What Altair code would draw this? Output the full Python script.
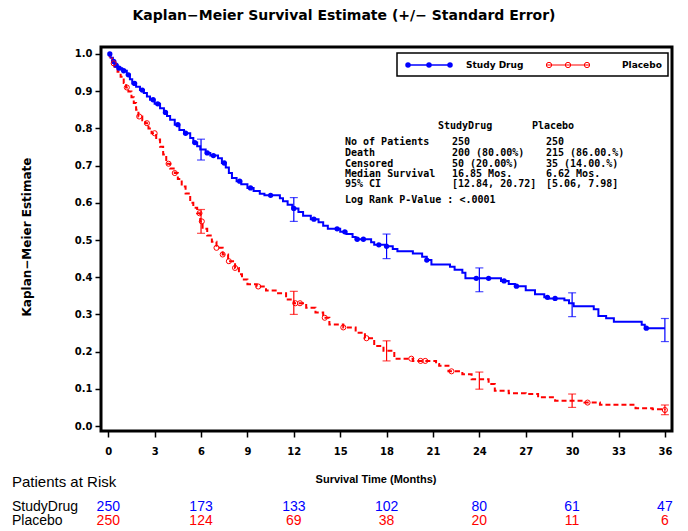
import altair as alt
import pandas as pd

# ---------------- data ----------------
blue_t = [0, 0.15, 0.3, 0.45, 0.6, 0.9, 1.2, 1.4, 1.55, 1.8, 2.05, 2.3, 2.5, 2.7, 3.0, 3.35, 3.6, 3.8,
          4.0, 4.3, 4.6, 4.9, 5.3, 5.5, 5.75, 5.95, 6.3, 6.6, 7.1, 7.35, 7.6, 7.8, 8.0, 8.3, 8.6, 9.0,
          9.4, 9.8, 10.1, 11.1, 11.3, 11.6, 11.9, 12.3, 12.6, 13.1, 13.6, 13.9, 14.2, 15.0, 15.4, 15.8,
          16.0, 17.0, 17.2, 18.0, 18.4, 18.7, 19.7, 20.3, 20.6, 20.9, 22.1, 22.4, 22.9, 23.1, 25.4,
          25.9, 26.3, 27.0, 27.6, 28.2, 28.5, 29.5, 29.8, 30.1, 31.4, 31.7, 32.2, 32.7, 34.5, 34.7, 36.0]
blue_s = [1.0, 0.99, 0.98, 0.97, 0.962, 0.955, 0.944, 0.932, 0.921, 0.912, 0.903, 0.895, 0.886, 0.877,
          0.866, 0.854, 0.843, 0.833, 0.823, 0.81, 0.796, 0.787, 0.774, 0.762, 0.752, 0.743, 0.734,
          0.727, 0.72, 0.707, 0.695, 0.68, 0.667, 0.658, 0.65, 0.64, 0.632, 0.624, 0.62, 0.612, 0.604,
          0.595, 0.585, 0.575, 0.565, 0.556, 0.548, 0.538, 0.53, 0.522, 0.516, 0.508, 0.502, 0.494,
          0.487, 0.483, 0.476, 0.47, 0.464, 0.455, 0.446, 0.434, 0.428, 0.42, 0.412, 0.397, 0.39,
          0.382, 0.376, 0.365, 0.354, 0.346, 0.343, 0.338, 0.33, 0.322, 0.314, 0.296, 0.29, 0.28,
          0.272, 0.263, 0.263]

red_t = [0, 0.1, 0.25, 0.4, 0.6, 0.8, 1.0, 1.15, 1.3, 1.5, 1.65, 1.8, 1.95, 2.2, 2.4, 2.6, 2.8, 3.1,
         3.35, 3.55, 3.75, 4.0, 4.3, 4.5, 4.75, 5.0, 5.3, 5.5, 5.75, 5.95, 6.1, 6.4, 6.7, 7.0, 7.4,
         7.75, 8.2, 8.45, 8.65, 9.0, 9.6, 10.2, 10.9, 11.5, 12.0, 12.8, 13.4, 13.9, 14.3, 15.2, 16.0,
         16.6, 17.2, 17.8, 18.5, 19.7, 21.2, 21.4, 22.0, 22.9, 23.5, 24.6, 25.0, 25.9, 27.0, 27.8,
         28.9, 30.8, 31.8, 34.1, 35.2, 36.0]
red_s = [1.0, 0.988, 0.975, 0.966, 0.952, 0.939, 0.922, 0.91, 0.899, 0.884, 0.868, 0.85, 0.832, 0.822,
         0.814, 0.8, 0.787, 0.77, 0.751, 0.73, 0.705, 0.692, 0.68, 0.664, 0.644, 0.625, 0.6, 0.587,
         0.572, 0.55, 0.53, 0.512, 0.495, 0.479, 0.461, 0.443, 0.425, 0.408, 0.394, 0.381, 0.375,
         0.364, 0.357, 0.34, 0.33, 0.318, 0.305, 0.291, 0.273, 0.265, 0.251, 0.236, 0.215, 0.202,
         0.181, 0.175, 0.167, 0.162, 0.147, 0.139, 0.126, 0.113, 0.095, 0.088, 0.086, 0.077, 0.068,
         0.063, 0.057, 0.048, 0.045, 0.043]

blue_cens = [0.1, 0.35, 0.5, 0.7, 1.0, 1.3, 1.7, 2.2, 2.9, 3.2, 3.7, 4.5, 5.0, 5.6, 6.4, 6.8, 7.5, 8.5,
             9.2, 10.5, 12.0, 13.3, 14.8, 15.3, 16.1, 16.5, 17.5, 18.0, 20.6, 23.8, 24.6, 25.6, 26.4,
             28.4, 28.9, 34.8]
red_cens = [0.35, 1.2, 2.0, 2.5, 3.0, 3.9, 4.3, 5.9, 6.05, 7.0, 7.4, 7.8, 8.2, 9.7, 12.1, 12.4, 14.0,
            15.2, 16.7, 19.6, 20.2, 20.5, 22.2, 31.0, 36.0]

eb_t = [6, 12, 18, 24, 30, 36]
blue_est = [0.743, 0.582, 0.483, 0.393, 0.326, 0.258]
blue_se = [0.028, 0.032, 0.033, 0.032, 0.032, 0.031]
red_est = [0.55, 0.331, 0.202, 0.122, 0.068, 0.0435]
red_se = [0.032, 0.031, 0.027, 0.023, 0.018, 0.013]

risk_t = [0, 6, 12, 18, 24, 30, 36]
risk_blue = [250, 173, 133, 102, 80, 61, 47]
risk_red = [250, 124, 69, 38, 20, 11, 6]

x_ticks = [0, 3, 6, 9, 12, 15, 18, 21, 24, 27, 30, 33, 36]
y_ticks = [0.0, 0.1, 0.2, 0.3, 0.4, 0.5, 0.6, 0.7, 0.8, 0.9, 1.0]

stats_labels = ["No of Patients", "Death", "Censored", "Median Survival", "95% CI"]
stats_drug = ["250", "200 (80.00%)", "50 (20.00%)", "16.85 Mos.", "[12.84, 20.72]"]
stats_placebo = ["250", "215 (86.00.%)", "35 (14.00.%)", "6.62 Mos.", "[5.06, 7.98]"]

BLUE = "#0000FF"
RED = "#FF0000"
SANS = "Liberation Sans, Arial, sans-serif"
HEAVY = "DejaVu Sans, sans-serif"
MONO = "DejaVu Sans Mono, monospace"


def step_value(t, ts, ss):
    v = ss[0]
    for tt, s in zip(ts, ss):
        if tt <= t:
            v = s
    return v


# ---------------- frames ----------------
df_blue = pd.DataFrame({"t": blue_t, "s": blue_s})
df_red = pd.DataFrame({"t": red_t, "s": red_s})
df_bc = pd.DataFrame({"t": blue_cens, "s": [step_value(t, blue_t, blue_s) for t in blue_cens]})
df_rc = pd.DataFrame({"t": red_cens, "s": [step_value(t, red_t, red_s) for t in red_cens]})
df_beb = pd.DataFrame({"t": eb_t, "s": [e - s for e, s in zip(blue_est, blue_se)],
                       "s2": [e + s for e, s in zip(blue_est, blue_se)]})
df_reb = pd.DataFrame({"t": eb_t, "s": [e - s for e, s in zip(red_est, red_se)],
                       "s2": [e + s for e, s in zip(red_est, red_se)]})
df_risk_b = pd.DataFrame({"t": risk_t, "n": risk_blue})
df_risk_r = pd.DataFrame({"t": risk_t, "n": risk_red})

xscale = alt.Scale(domain=[-0.47, 36.46], nice=False, zero=False)
yscale = alt.Scale(domain=[-0.0134, 1.0188], nice=False, zero=False)
xaxis = alt.Axis(values=x_ticks, title=None, domain=False, grid=False, tickSize=6, tickWidth=1.5,
                 tickColor="black", labelFont=HEAVY, labelFontWeight="bold", labelFontSize=10,
                 labelColor="black", labelBaseline="middle", labelPadding=14)
yaxis = alt.Axis(values=y_ticks, format=".1f", title=None, domain=False, grid=False, tickSize=6,
                 tickWidth=1.5, tickColor="black", labelFont=HEAVY, labelFontWeight="bold",
                 labelFontSize=10, labelColor="black", labelPadding=3)


def X(field="t"):
    return alt.X(f"{field}:Q", scale=xscale, axis=xaxis)


def Y(field="s"):
    return alt.Y(f"{field}:Q", scale=yscale, axis=yaxis)


blue_line = alt.Chart(df_blue).mark_line(color=BLUE, strokeWidth=2, interpolate="step-after").encode(
    x=X(), y=Y())
red_line = alt.Chart(df_red).mark_line(color=RED, strokeWidth=2, strokeDash=[5, 3],
                                       interpolate="step-after").encode(x=X(), y=Y())
blue_pts = alt.Chart(df_bc).mark_point(shape="circle", filled=True, color=BLUE, size=28, opacity=1).encode(
    x=X(), y=Y())
red_pts = alt.Chart(df_rc).mark_point(shape="circle", filled=False, color=RED, size=26, strokeWidth=1,
                                      opacity=1).encode(x=X(), y=Y())
blue_eb = alt.Chart(df_beb).mark_rule(color=BLUE, strokeWidth=1.2).encode(x=X(), y=Y(), y2="s2:Q")
red_eb = alt.Chart(df_reb).mark_rule(color=RED, strokeWidth=1.2).encode(x=X(), y=Y(), y2="s2:Q")
blue_cap_lo = alt.Chart(df_beb).mark_tick(color=BLUE, orient="horizontal", size=8, thickness=1.2).encode(
    x=X(), y=Y())
blue_cap_hi = alt.Chart(df_beb).mark_tick(color=BLUE, orient="horizontal", size=8, thickness=1.2).encode(
    x=X(), y=Y("s2"))
red_cap_lo = alt.Chart(df_reb).mark_tick(color=RED, orient="horizontal", size=8, thickness=1.2).encode(
    x=X(), y=Y())
red_cap_hi = alt.Chart(df_reb).mark_tick(color=RED, orient="horizontal", size=8, thickness=1.2).encode(
    x=X(), y=Y("s2"))

one = pd.DataFrame({"a": [0]})


def label(text, x, y, size=10, weight="normal", font=SANS, color="black", align="left", angle=0):
    kw = dict(text=text, fontSize=size, fontWeight=weight, font=font, color=color, align=align,
              baseline="middle")
    if angle:
        kw["angle"] = angle
    return alt.Chart(one).mark_text(**kw).encode(x=alt.value(x), y=alt.value(y))


layers = [blue_line, red_line, blue_eb, red_eb, blue_cap_lo, blue_cap_hi, red_cap_lo, red_cap_hi,
          blue_pts, red_pts]

# title & axis titles
layers.append(label("Kaplan\u2212Meier Survival Estimate (+/\u2212  Standard Error)", 243, -31, size=14,
                    weight="bold", font=HEAVY, align="center"))
layers.append(label("Kaplan\u2212Meier Estimate", -74, 190, size=12, weight="bold", font=HEAVY,
                    align="center", angle=270))
layers.append(label("Survival Time (Months)", 275, 433, size=11, weight="bold", align="center"))

# legend box
layers.append(alt.Chart(one).mark_rect(filled=False, stroke="black", strokeWidth=1.5).encode(
    x=alt.value(296), x2=alt.value(567), y=alt.value(6), y2=alt.value(29)))
layers.append(alt.Chart(one).mark_rule(color=BLUE, strokeWidth=1.5).encode(
    x=alt.value(305), x2=alt.value(351), y=alt.value(18)))
layers.append(alt.Chart(one).mark_rule(color=RED, strokeWidth=1.2).encode(
    x=alt.value(446), x2=alt.value(489), y=alt.value(18)))
for px in [307, 328, 349]:
    layers.append(alt.Chart(one).mark_point(shape="circle", filled=True, color=BLUE, size=30, opacity=1).encode(
        x=alt.value(px), y=alt.value(18)))
for px in [448, 467, 486]:
    layers.append(alt.Chart(one).mark_point(shape="circle", filled=False, color=RED, size=28, strokeWidth=1,
                                            opacity=1).encode(x=alt.value(px), y=alt.value(18)))
layers.append(label("Study Drug", 365, 18, size=9, weight="bold", font=HEAVY))
layers.append(label("Placebo", 521, 18, size=9, weight="bold", font=HEAVY))

# stats block
layers.append(label("StudyDrug", 337, 79, size=10, weight="bold", font=MONO))
layers.append(label("Placebo", 431, 79, size=10, weight="bold", font=MONO))
row_y = [95, 106, 116.5, 126.5, 137]
for lab, d, p, yy in zip(stats_labels, stats_drug, stats_placebo, row_y):
    layers.append(label(lab, 244, yy, size=10, weight="bold", font=MONO))
    layers.append(label(d, 351, yy, size=10, weight="bold", font=MONO))
    layers.append(label(p, 445, yy, size=10, weight="bold", font=MONO))
layers.append(label("Log Rank P-Value : <.0001", 244, 153, size=10, weight="bold", font=MONO))

# patients at risk
layers.append(label("Patients at Risk", -89, 435, size=15))
layers.append(label("StudyDrug", -89, 460, size=14))
layers.append(label("Placebo", -89, 474, size=14))
layers.append(alt.Chart(df_risk_b).mark_text(fontSize=14, color=BLUE, font=SANS, baseline="middle").encode(
    x=X(), y=alt.value(460), text="n:Q"))
layers.append(alt.Chart(df_risk_r).mark_text(fontSize=14, color=RED, font=SANS, baseline="middle").encode(
    x=X(), y=alt.value(474), text="n:Q"))

chart = alt.layer(*layers).properties(
    width=571, height=384,
    autosize=alt.AutoSizeParams(type="none"),
    padding={"left": 93, "top": 39, "right": 8, "bottom": 100},
).configure_view(stroke="black", strokeWidth=3)

chart.save("out.html", embed_options={"renderer": "svg", "actions": False})
